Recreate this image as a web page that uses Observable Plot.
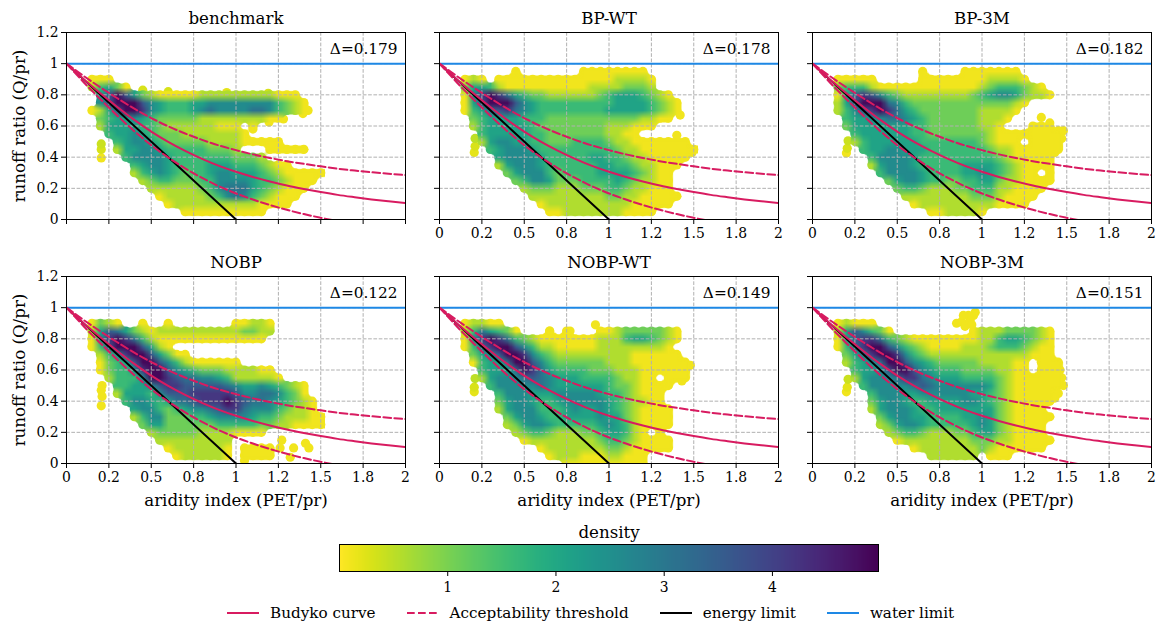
<!DOCTYPE html>
<html><head><meta charset="utf-8">
<script src="https://cdn.jsdelivr.net/npm/d3@7"></script>
<script src="https://cdn.jsdelivr.net/npm/@observablehq/plot@0.6"></script>
<style>
html,body{margin:0;padding:0;background:#fff}
#page{position:relative;width:1167px;height:632px;overflow:hidden;font-family:"DejaVu Serif",serif}
#page>svg,#page>div{position:absolute}
#legend{left:227px;top:604px;display:flex;align-items:center;font-size:15.2px;color:#000;white-space:nowrap}
#legend .entry{display:flex;align-items:center;margin-right:31px}
#legend svg{margin-right:11px}
</style></head><body><div id="page"><svg width="0" height="0"><defs><filter id="sharp" x="-5%" y="-5%" width="110%" height="110%" color-interpolation-filters="sRGB"><feComponentTransfer><feFuncA type="linear" slope="6" intercept="-2.5"/></feComponentTransfer></filter></defs></svg></div>
<script>
// Cell centres of the density tables: columns are aridity index, rows are runoff ratio.
const colsX = [0,.05,.1,.15,.2,.25,.3,.35,.4,.45,.5,.55,.6,.65,.7,.75,.8,.85,.9,.95,1,1.05,1.1,1.15,1.2,1.25,1.3,1.35,1.4,1.45,1.5];
const rowsY = [1,.95,.9,.85,.8,.75,.7,.65,.6,.55,.5,.45,.4,.35,.3,.25,.2,.15,.1,.05,0];
// Digit d stands for one density level; "." is no data.
const digitDensity = [0.1,0.6,1.1,1.6,2.1,2.6,3.1,3.6,4.2,4.9];

const benchmark = ["","",
"...00 0",
"...13 420",
"....4 79742 10000 01111 11111 000",
"....5 79997 54333 44555 55555 3210",
"...01 47998 54333 45655 55665 3210",
"....2 34454 32222 21111 11110 0",
"....1 44443 32111 11100 0.0",
"..... 34454 32221 11111 10",
"..... .3455 43222 22111 10000 0",
"..... .1445 54333 33222 1...0 0000",
"..... ..355 55433 33333 2221",
"..... ...34 55433 33444 33321 00",
"..... ...13 45432 33455 44432 10000 0",
"..... ....1 23322 23355 55433 21000",
"..... ..... 11111 12356 66432 1000",
"..... ..... .0111 11235 65321 000",
"..... ..... ..011 11111 11100 00",
"..... ..... ....0 00000 0000",
""];
const bpWT = ["",
"..... ....0 ..... ..000 00000",
"...01 0.000 00000 00000 01111 0",
"...24 43100 00000 00011 11222 1",
"...05 89864 32211 11112 34443 210",
"...04 79997 54333 33333 34444 3210",
"...03 46786 54333 33333 44444 3210",
"....2 34444 33322 22222 22221 100",
"....1 34444 43222 22222 11100 0",
"..... 34444 43322 22222 1100",
"..... 14554 43322 23333 21100 00000",
"..... .3455 54333 33333 32110 00000 0",
"..... ..455 55433 33344 33211 00000",
"..... ..145 55433 33334 43321 1000",
"..... ...24 55532 33334 44432 100",
"..... ....2 35542 22333 34321 100",
"..... ..... 12221 11222 33211 000",
"..... ..... .1111 11111 22110 0000",
"..... ..... ..011 11111 11100 000",
"..... ..... ...00 11111 11000 0",
""];
const bp3M = ["",
"..... ..... ...0. ...00 00000",
"...00 000.. ...00 00000 01111 0",
"...23 33100 00000 00000 12333 210",
"...04 78753 21111 11112 34554 2110",
"...14 79996 53222 22222 22221 0",
"...13 57898 64322 22222 11110",
"....3 44556 65432 22222 1110",
"....2 44444 44332 22222 110.. .000",
"..... 34444 44332 22222 21000 00000",
"..... 13444 44433 33333 21000 .0000",
"..... .3445 54443 33333 32110 00000",
"..... ..355 55433 33333 33210 0000",
"..... ..145 55433 33344 44321 0000",
"..... ...35 55543 33344 54321 00.0",
"..... ....2 45543 32233 44211 0000",
"..... ..... 23321 11223 33110 000",
"..... ..... .1111 11112 22100 00",
"..... ..... ..011 11111 11000 0",
"..... ..... ....0 01111 0",
""];
const nobp = ["","",
"...02 10..0 ..0.. ..... 00110",
"...14 76421 01111 11111 12211",
"...05 89863 10000 00000 0000",
"...03 79997 410",
"....1 35899 74200",
"....0 23479 97531 00000 0",
"....0 23358 99754 32221 11100",
"..... 13335 99876 65543 11111 0",
"..... .3344 57887 77776 54454 3210",
"..... .1444 35777 88888 75566 5320",
"..... ..355 43466 78889 87665 43210",
"..... ...45 53234 55678 86555 32110",
"..... ...13 55222 33455 55433 21110 0",
"..... ....2 44222 22233 33322 11000 0",
"..... ..... 12222 21111 0000",
"..... ..... .1111 11111",
"..... ..... ..011 11110 .0000",
"..... ..... ...01 11110 .0000",
""];
const nobpWT = ["","",
"...01 100",
"...13 64320 ...0. 0...0 01222 2210",
"...05 89863 21000 00001 11344 3210",
"...03 68997 53110 00001 11111 110",
"....2 45799 85321 11111 11100 0000",
"....0 34469 97532 22222 11100 00000",
"..... 34446 98643 33322 21110 00000",
"..... 14555 67654 44333 32110 0.000",
"..... .3555 55654 44444 32210 000",
"..... ..355 54445 55554 33210 00",
"..... ..245 54334 55555 43211 00",
"..... ..145 55333 45445 43210 000",
"..... ...24 55433 44445 44210 000",
"..... ...12 45543 33334 54310 000",
"..... ....1 23321 11223 44310 .0",
"..... ..... 01111 11112 33210 000",
"..... ..... ..011 11111 22100 000",
"..... ..... ...01 11000 11000",
"..... ..... ..... 00000 00000"];
const nobp3M = ["","",
"...01 000",
"...14 75320 ..... ....0 11122 2210",
"...04 78863 21000 00000 11344 3210",
"...03 68997 53210 00011 12333 2100",
"....2 46899 85321 11111 11111 1000",
"....1 34569 97543 22222 11110 0.000",
"..... 34457 99754 33322 22110 0.000",
"..... 14555 68865 44433 33210 00000",
"..... .3555 55676 55555 54210 00000",
"..... ..355 54455 55554 43210 0000",
"..... ..245 54334 44455 43210 0000",
"..... ..145 55433 44444 44210 000",
"..... ...24 55443 33344 54210 0000",
"..... ...12 45543 33334 54210 000",
"..... ....1 23321 11223 44210 000",
"..... ..... 01111 11112 22110 0000",
"..... ..... ..011 11111 21000 000",
"..... ..... ....1 11111 .000",
""];

// Stray points outside the tables: [aridity, runoff, density]
const strayBenchmark = [[.205,.485,.4],[.205,.45,.3],[.205,.395,.1],[.45,.83,.3],[.6,.82,.3],[.945,.815,.2],[1.19,.81,.3],[1.425,.7,.1],[1.395,.68,.1],[1.28,.645,.1],[1.195,.625,.1],[1.1,.6,.1],[1.1,.58,.1]];
const strayBPWT = [[.21,.52,.5],[.21,.47,.3],[.205,.43,.2],[1.4,.54,.1],[1.42,.67,.1],[1.49,.43,.1]];
const strayBP3M = [[.21,.505,.4],[.205,.457,.3],[.2,.427,.1],[1.35,.655,.1],[1.45,.57,.1],[1.48,.57,.1],[1.47,.52,.1],[1.45,.47,.1],[1.43,.43,.1],[1.4,.62,.1]];
const strayNOBP = [[.21,.5,.1],[.205,.47,.1],[.21,.43,.1],[.205,.37,.1],[1.27,.15,.1],[1.26,.1,.1],[1.34,.1,.1],[1.41,.13,.1],[1.43,.1,.1],[1.32,.04,.1],[1.05,.02,.1],[1.2,.6,.1],[1.15,.6,.1]];
const strayNOBPWT = [[.21,.545,.5],[.205,.49,.3],[.205,.46,.2],[.92,.89,.1],[.65,.85,.1],[.77,.85,.1],[1.48,.63,.1],[1.45,.59,.1],[1.43,.53,.1]];
const strayNOBP3M = [[.21,.54,.4],[.205,.49,.2],[.2,.46,.1],[.85,.9,.1],[.88,.91,.1],[.9,.88,.1],[.93,.92,.1],[.95,.95,.1],[.96,.97,.1],[.92,.95,.1],[.94,.89,.1],[.89,.95,.1],[1.47,.55,.1],[1.48,.5,.1],[1.46,.6,.1],[1.45,.45,.1],[1.43,.42,.1]];

// Reference lines
const curveX = [0,.05,.1,.2,.3,.4,.5,.6,.7,.8,.9,1,1.1,1.2,1.3,1.4,1.5,1.6,1.7,1.8,1.9,2];
const budyko = [1,.951,.902,.81,.722,.639,.564,.498,.44,.389,.344,.306,.273,.244,.218,.196,.176,.158,.143,.129,.117,.106];
const upperLimit = [1,.961,.922,.848,.778,.711,.651,.598,.552,.511,.475,.445,.418,.395,.374,.357,.341,.326,.314,.303,.294,.285];
const lowerLimit = [1,.941,.882,.772,.666,.567,.477,.398,.328,.267,.213,.167,.128,.093,.062,.035,.011,-.01,-.028,-.045,-.06,-.073];
const energyX = [0,1], energyY = [1,0];
const waterX = [0,2], waterY = [1,1];

const xTicks = [0,.25,.5,.75,1,1.25,1.5,1.75,2];
const xTickLabels = ["0","0.2","0.5","0.8","1","1.2","1.5","1.8","2"];
const yTicks = [0,.2,.4,.6,.8,1,1.2];
const yTickLabels = ["0","0.2","0.4","0.6","0.8","1","1.2"];
const titles = ["benchmark","BP-WT","BP-3M","NOBP","NOBP-WT","NOBP-3M"];
const deltas = ["Δ=0.179","Δ=0.178","Δ=0.182","Δ=0.122","Δ=0.149","Δ=0.151"];
const tables = [benchmark,bpWT,bp3M,nobp,nobpWT,nobp3M];
const strays = [strayBenchmark,strayBPWT,strayBP3M,strayNOBP,strayNOBPWT,strayNOBP3M];
const colorTicks = [1,2,3,4];
const densityMax = 4.98;
const legendEntries = ["Budyko curve","Acceptability threshold","energy limit","water limit"];

const crimson = "#D81B60", blue = "#1E88E5";
const FONT = "DejaVu Serif";
const TICK = 13.9, LABEL = 16.67, NOTE = 15.3;
const color = {type:"linear",domain:[0,densityMax],scheme:"viridis",reverse:true};
const page = document.getElementById("page");
const M = {l:60,r:10,t:30,b:50}, PW = 339, PH = 187;
const panelLeft = [66,439,812], panelTop = [32,276];

function decode(rows){
  const values = new Array(colsX.length*rowsY.length).fill(NaN), cells = [];
  rows.forEach((s,r)=>{
    s.replace(/ /g,"").split("").forEach((c,k)=>{
      if(c==="."||k>=colsX.length) return;
      const d = digitDensity[+c];
      values[r*colsX.length+k] = d;
      cells.push({x:colsX[k],y:rowsY[r],d});
    });
  });
  return {values,cells};
}
function line(xs,ys,stroke,extra={}){
  const pts = xs.map((x,i)=>[x,ys[i]]);
  return Plot.line(pts,{x:d=>d[0],y:d=>d[1],stroke,strokeWidth:2,clip:true,...extra});
}
tables.forEach((rows,i)=>{
  const col = i%3, row = Math.floor(i/3);
  const {values,cells} = decode(rows);
  const pts = cells.concat(strays[i].map(([x,y,d])=>({x,y,d}))).sort((a,b)=>a.d-b.d);
  const showX = !(i===0), showY = col===0, xTitle = row===1;
  const dash = "7.7,3.3";
  const p = Plot.plot({
    width:PW+M.l+M.r, height:PH+M.t+M.b,
    marginLeft:M.l, marginRight:M.r, marginTop:M.t, marginBottom:M.b,
    style:{background:"transparent",fontFamily:FONT,overflow:"visible"},
    x:{domain:[0,2],label:null}, y:{domain:[0,1.2],label:null}, color,
    marks:[
      Plot.dot(pts,{x:"x",y:"y",fill:"d",r:4.6,clip:true}),
      Plot.raster(values,{width:colsX.length,height:rowsY.length,x1:-.025,x2:1.525,y1:1.025,y2:-.025,fill:d=>d,clip:true}),
      Plot.ruleX(xTicks.slice(1,-1),{stroke:"#b0b0b0",strokeWidth:1,strokeDasharray:"3.7,1.6"}),
      Plot.ruleY(yTicks.slice(1,-1),{stroke:"#b0b0b0",strokeWidth:1,strokeDasharray:"3.7,1.6"}),
      line(waterX,waterY,blue),
      line(energyX,energyY,"#000"),
      line(curveX,budyko,crimson,{curve:"monotone-x"}),
      line(curveX,upperLimit,crimson,{curve:"monotone-x",strokeDasharray:dash}),
      line(curveX,lowerLimit,crimson,{curve:"monotone-x",strokeDasharray:dash}),
      Plot.frame({stroke:"#000",strokeWidth:1}),
      Plot.axisX({ticks:xTicks,tickSize:5,tickPadding:4,label:null,fontSize:TICK,stroke:"#000",fill:"#000",
        tickFormat:showX?(d=>xTickLabels[xTicks.indexOf(d)]):(()=>"")}),
      Plot.axisY({ticks:yTicks,tickSize:5,tickPadding:3,label:null,fontSize:TICK,stroke:"#000",fill:"#000",
        tickFormat:showY?(d=>yTickLabels[yTicks.indexOf(d)]):(()=>"")}),
      Plot.text([titles[i]],{frameAnchor:"top",dy:-20,text:d=>d,fontSize:LABEL,fill:"#000"}),
      Plot.text([deltas[i]],{frameAnchor:"top-right",dx:-8,dy:11,text:d=>d,fontSize:NOTE,fill:"#000"}),
      ...(showY?[Plot.text(["runoff ratio (Q/pr)"],{frameAnchor:"left",textAnchor:"middle",dx:-47,rotate:-90,text:d=>d,fontSize:LABEL,fill:"#000"})]:[]),
      ...(xTitle?[Plot.text(["aridity index (PET/pr)"],{frameAnchor:"bottom",dy:42,text:d=>d,fontSize:LABEL,fill:"#000"})]:[])
    ]
  });
  p.style.left = (panelLeft[col]-M.l)+"px";
  p.style.top = (panelTop[row]-M.t)+"px";
  p.querySelectorAll("image").forEach(im=>im.setAttribute("filter","url(#sharp)"));
  page.appendChild(p);
});

// Colour bar
const bar = Plot.plot({
  width:539+40, height:27+30+24,
  marginLeft:20, marginRight:20, marginTop:24, marginBottom:30,
  style:{background:"transparent",fontFamily:FONT,overflow:"visible"},
  x:{domain:[0,densityMax],label:null}, y:{domain:[0,1],axis:null}, color,
  marks:[
    Plot.raster({x1:0,x2:densityMax,y1:0,y2:1,width:256,height:1,fill:(x,y)=>x}),
    Plot.frame({stroke:"#000",strokeWidth:1}),
    Plot.axisX({ticks:colorTicks,tickSize:5,tickPadding:6,label:null,fontSize:TICK,stroke:"#000",fill:"#000",tickFormat:d=>String(d)}),
    Plot.text(["density"],{frameAnchor:"top",dy:-18,text:d=>d,fontSize:LABEL,fill:"#000"})
  ]
});
bar.style.left = (339-20)+"px";
bar.style.top = (544-24)+"px";
page.appendChild(bar);

// Line legend
const legend = document.createElement("div");
legend.id = "legend";
const swatches = [[crimson,null],[crimson,"7.7,3.3"],["#000",null],[blue,null]];
legendEntries.forEach((label,i)=>{
  const e = document.createElement("div"); e.className = "entry";
  const s = d3.create("svg").attr("width",32).attr("height",18);
  const l = s.append("line").attr("x1",0).attr("x2",32).attr("y1",9).attr("y2",9)
    .attr("stroke",swatches[i][0]).attr("stroke-width",2);
  if(swatches[i][1]) l.attr("stroke-dasharray",swatches[i][1]);
  e.appendChild(s.node());
  const t = document.createElement("span"); t.textContent = label;
  e.appendChild(t);
  legend.appendChild(e);
});
page.appendChild(legend);
</script></body></html>
